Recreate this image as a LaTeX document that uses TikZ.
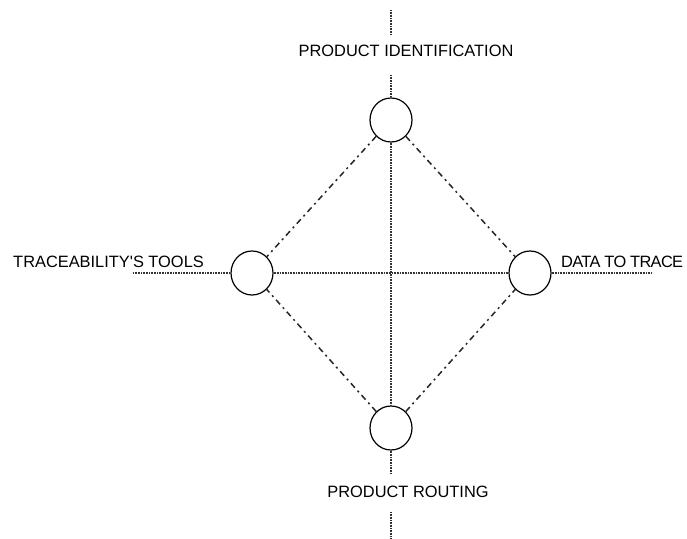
\documentclass[tikz,border=0pt]{standalone}
\usepackage{fontspec}
\setmainfont{Liberation Sans}
\usetikzlibrary{shapes.geometric}
\begin{document}
\begin{tikzpicture}[x=1pt,y=-1pt,
  hub/.style={draw=black,line width=1.2pt,ellipse,minimum width=42pt,minimum height=44pt,inner sep=0pt},
  axisline/.style={draw=black!80,line width=1.4pt,dash pattern=on 0.9pt off 0.7pt},
  diag/.style={draw=black!85,line width=1.5pt,dash pattern=on 6pt off 4pt on 2pt off 4pt},
  lbl/.style={font=\fontsize{16.4}{19}\selectfont,inner sep=0pt}]
\useasboundingbox (0,0) rectangle (687,538);
\node[hub] (top) at (391,120) {};
\node[hub] (left) at (252,273) {};
\node[hub] (right) at (530,273) {};
\node[hub] (bot) at (391,428) {};
\node[lbl] (ltop) at (406,51) {PRODUCT IDENTIFICATION};
\node[lbl,anchor=east] (lleft) at (204,262) {TRACEABILITY\textquotesingle S TOOLS};
\node[lbl,anchor=west] (lright) at (561,262) {\addfontfeature{LetterSpace=-4}DATA TO TRACE};
\node[lbl] (lbot) at (408,492) {PRODUCT ROUTING};
\coordinate (t1) at (391,10);
\coordinate (t2) at (391,35);
\coordinate (t3) at (391,75);
\coordinate (b1) at (391,474);
\coordinate (b2) at (391,512);
\coordinate (b3) at (391,538);
\coordinate (le) at (133,273);
\coordinate (re) at (652,273);
\draw[axisline] (t1) -- (t2);
\draw[axisline] (t3) -- (top.north);
\draw[axisline] (top.south) -- (bot.north);
\draw[axisline] (bot.south) -- (b1);
\draw[axisline] (b2) -- (b3);
\draw[axisline] (le) -- (left.west);
\draw[axisline] (left.east) -- (right.west);
\draw[axisline] (right.east) -- (re);
\draw[diag] (top) -- (left);
\draw[diag] (top) -- (right);
\draw[diag] (bot) -- (left);
\draw[diag] (bot) -- (right);
\end{tikzpicture}
\end{document}
